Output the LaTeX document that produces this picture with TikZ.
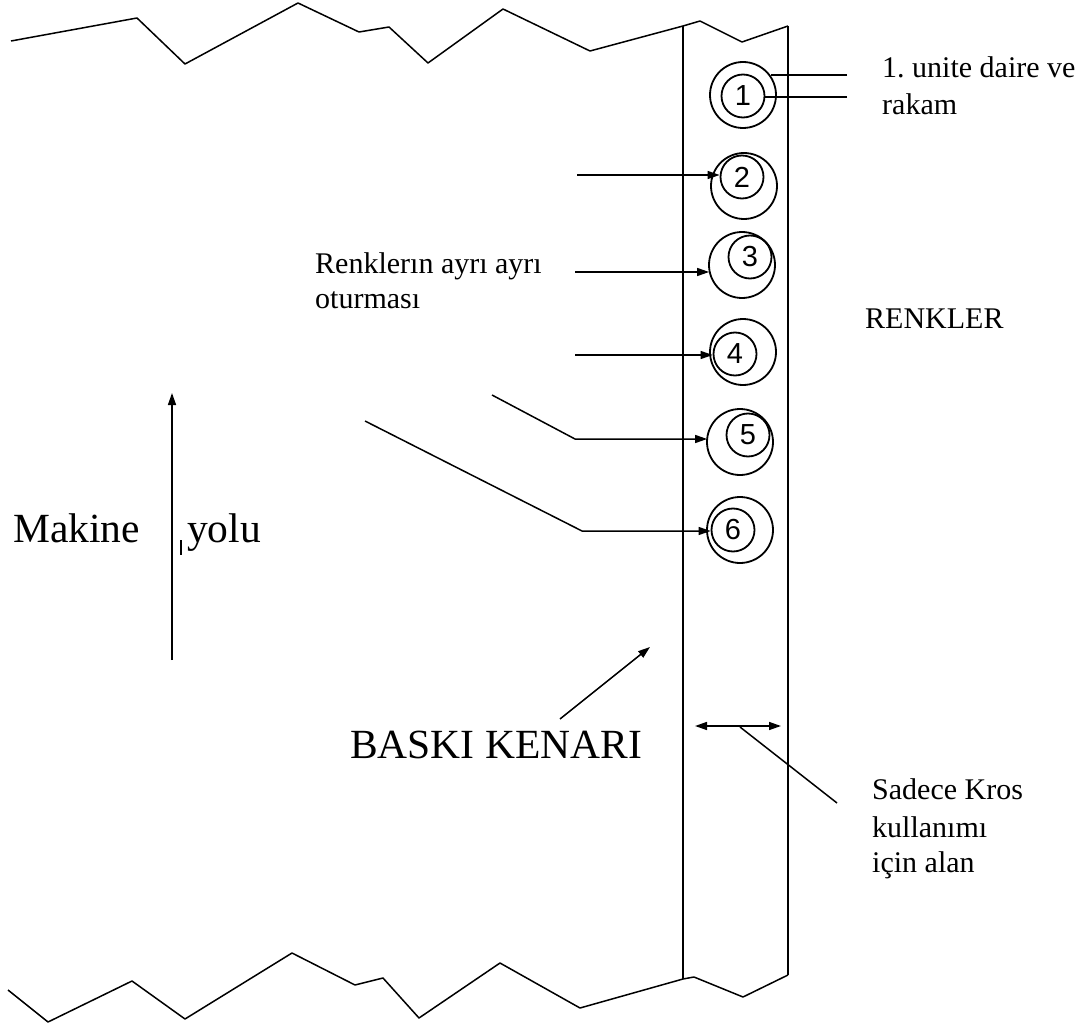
\documentclass[tikz,border=0pt]{standalone}
\usepackage{fontspec}
\setmainfont{Liberation Serif}
\newfontfamily\digitfont{Liberation Sans}
\usetikzlibrary{arrows.meta}
\begin{document}
\begin{tikzpicture}[x=1pt,y=-1pt,
  edge/.style={line width=1.5pt, line join=round},
  tip/.style={-{Triangle[length=12pt,width=8pt]}},
  ring/.style={circle, draw, line width=1.8pt, inner sep=0pt, minimum size=66pt},
  innerring/.style={circle, draw, line width=1.8pt, inner sep=0pt, minimum size=43pt, font=\digitfont\fontsize{29}{29}\selectfont},
  lbl/.style={anchor=base west, inner sep=0pt, font=\fontsize{30}{37}\selectfont},
  big/.style={anchor=base west, inner sep=0pt, font=\fontsize{41.5}{45}\selectfont}]
\useasboundingbox (0,0) rectangle (1082,1027);

% top torn edge
\draw[edge] (11,41) -- (137,18) -- (185,64) -- (298,3) -- (359,32) -- (389,27) -- (428,63) -- (503,9) -- (590,51) -- (683,26) -- (700,21) -- (742,42) -- (788,26);
% bottom torn edge
\draw[edge] (8,990) -- (48,1022) -- (132,981) -- (185,1019) -- (292,953) -- (355,985) -- (383,978) -- (419,1018) -- (500,963) -- (580,1008) -- (683,979) -- (694,977) -- (743,997) -- (788,975);
% strip
\draw[edge] (683,26) -- (683,979);
\draw[edge] (788,26) -- (788,975);

% circles
\node[ring] (o1) at (743,95) {};
\node[innerring] (c1) at (743,96) {1};
\node[ring] (o2) at (744,186) {};
\node[innerring] (c2) at (742,177) {2};
\node[ring] (o3) at (742,265) {};
\node[innerring] (c3) at (750,257) {3};
\node[ring] (o4) at (743,352) {};
\node[innerring] (c4) at (735,354) {4};
\node[ring] (o5) at (740,442) {};
\node[innerring] (c5) at (748,435) {5};
\node[ring] (o6) at (740,530) {};
\node[innerring] (c6) at (733,530) {6};

% label 1
\coordinate (l1a) at (847,75);
\coordinate (l1b) at (847,97);
\draw[edge] (l1a) -- ([xshift=-6pt]l1a -| o1.east);
\draw[edge] (l1b) -- (l1b -| c1.east);
\node[lbl] (t1a) at (882,78) {1.\ unite daire ve};
\node[lbl] (t1b) at (882,115) {rakam};

% arrows to circles
\coordinate (a2) at (577,175);
\coordinate (a3) at (575,272);
\coordinate (a4) at (575,355);
\coordinate (a5s) at (492,395);
\coordinate (a5b) at (575,439);
\coordinate (a6s) at (365,421);
\coordinate (a6b) at (582,531);
\draw[edge,tip] (a2) -- (a2 -| c2.west);
\draw[edge,tip] (a3) -- ([xshift=1pt]a3 -| o3.west);
\draw[edge,tip] (a4) -- (a4 -| c4.west);
\draw[edge,tip] (a5s) -- (a5b) -- ([xshift=1pt]a5b -| o5.west);
\draw[edge,tip] (a6s) -- (a6b) -- (a6b -| c6.west);

\node[lbl] (t2a) at (315,273) {Renklerın ayrı ayrı};
\node[lbl] (t2b) at (315,308) {oturması};
\node[lbl] (t3) at (865,328) {RENKLER};

% machine direction
\coordinate (m0) at (172,660);
\coordinate (m1) at (172,393);
\draw[edge,tip] (m0) -- (m1);
\node[big] (t4a) at (13,542) {Makine};
\node[big] (t4b) at (187,542) {yolu};
\draw[line width=1.2pt] (181,540) -- (181,555);

% baski kenari
\node[big] (t5) at (350,758) {BASKI KENARI};
\coordinate (b0) at (560,719);
\coordinate (b1) at (650,647);
\draw[edge,tip] (b0) -- (b1);

% cross area
\coordinate (d0) at (695,726);
\coordinate (d1) at (781,726);
\draw[edge,{Triangle[length=12pt,width=8pt]}-{Triangle[length=12pt,width=8pt]}] (d0) -- (d1);
\coordinate (e0) at (740,727);
\coordinate (e1) at (837,803);
\draw[edge] (e0) -- (e1);
\node[lbl] (t6a) at (872,799) {Sadece Kros};
\node[lbl] (t6b) at (872,837) {kullanımı};
\node[lbl] (t6c) at (872,872) {için alan};
\end{tikzpicture}
\end{document}
